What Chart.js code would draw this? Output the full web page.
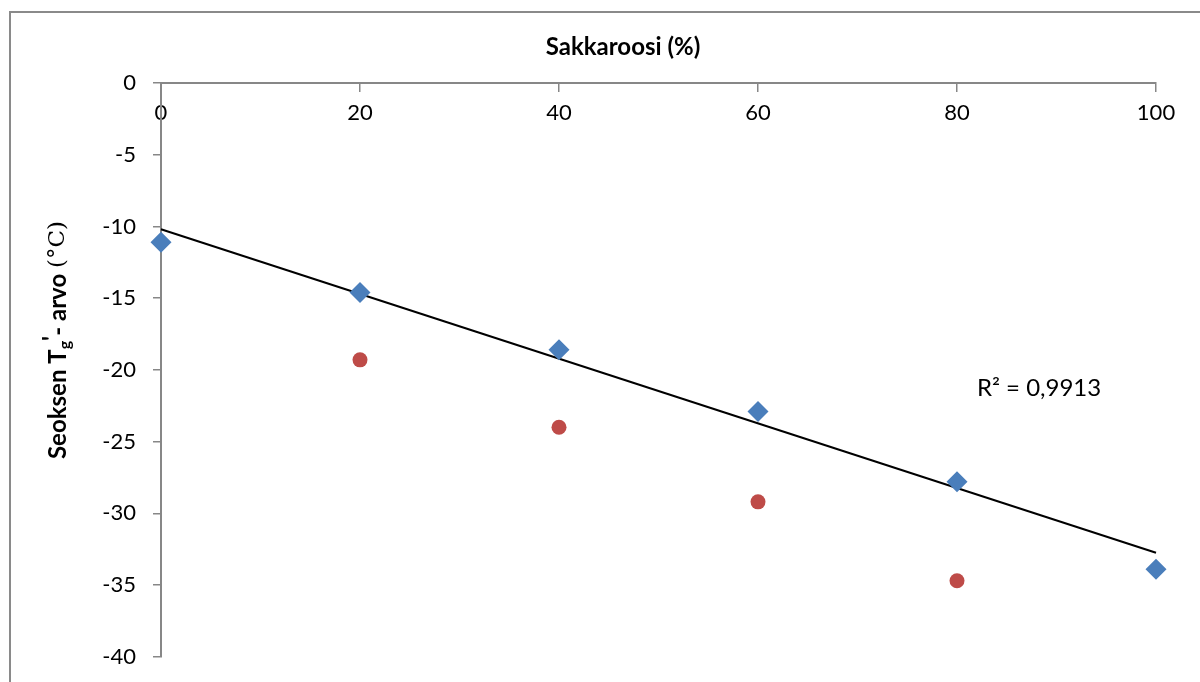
<!DOCTYPE html>
<html>
<head>
<meta charset="utf-8">
<title>Sakkaroosi</title>
<script src="https://cdn.jsdelivr.net/npm/chart.js@4.4.1/dist/chart.umd.min.js"></script>
<style>
    html, body { margin: 0; padding: 0; background: #ffffff; }
    #wrap { position: relative; width: 1200px; height: 682px; overflow: hidden; }
    #frame {
        position: absolute; left: 9px; top: 11px; width: 1400px; height: 900px;
        border-left: 2px solid #8a8a8a; border-top: 2px solid #8a8a8a;
    }
    #chart { position: absolute; left: 0; top: 0; }
</style>
</head>
<body>
<div id="wrap">
    <div id="frame"></div>
    <canvas id="chart" width="1200" height="687"></canvas>
</div>
<script>
(function () {
    "use strict";

    // ---------------------------------------------------------
    // Data
    // ---------------------------------------------------------
    const sucroseLevels = [0, 20, 40, 60, 80, 100];
    const tgBlue = [-11.1, -14.6, -18.6, -22.9, -27.8, -33.9];

    const redLevels = [20, 40, 60, 80];
    const tgRed = [-19.3, -24.0, -29.2, -34.7];

    const trendX = [0, 100];
    const trendY = [-10.2, -32.75];

    const xTicks = [0, 20, 40, 60, 80, 100];
    const yTicks = [0, -5, -10, -15, -20, -25, -30, -35, -40];

    const titleText = "Sakkaroosi (%)";
    const r2Text = "R² = 0,9913";

    const FONT = "Lato, 'Open Sans', sans-serif";
    const SERIF = "'DejaVu Serif', 'Liberation Serif', serif";
    const AXIS_GREY = "#878787";

    function toPoints(xs, ys) {
        return xs.map((x, i) => ({ x: x, y: ys[i] }));
    }


    // ---------------------------------------------------------
    // Text overlay: title, y title with subscript, R² label
    // ---------------------------------------------------------
    const textPlugin = {
        id: "textOverlay",
        afterDraw(chart) {
            const ctx = chart.ctx;
            const xs = chart.scales.x;
            const ys = chart.scales.y;

            ctx.save();
            ctx.fillStyle = "#000";

            // top title
            ctx.font = "bold 24px " + FONT;
            ctx.textAlign = "center";
            ctx.textBaseline = "middle";
            ctx.fillText(titleText, 623, 47);

            // y title, rotated, with T subscript g and prime
            const parts = [
                { t: "Seoksen T", font: "bold 24px " + FONT, dy: 0 },
                { t: "g", font: "bold 16px " + FONT, dy: 7 },
                { t: "'", font: "bold 24px " + FONT, dy: -6 },
                { t: "- arvo ", font: "bold 24px " + FONT, dy: 0 },
                { t: "(°C)", font: "23px " + SERIF, dy: 0 },
            ];
            let total = 0;
            parts.forEach((p) => {
                ctx.font = p.font;
                p.w = ctx.measureText(p.t).width;
                total += p.w;
            });
            ctx.translate(58, 340);
            ctx.rotate(-Math.PI / 2);
            ctx.textAlign = "left";
            let cx = -total / 2;
            parts.forEach((p) => {
                ctx.font = p.font;
                ctx.fillText(p.t, cx, p.dy);
                cx += p.w;
            });
            ctx.setTransform(1, 0, 0, 1, 0, 0);

            // R² label
            ctx.font = "24px " + FONT;
            ctx.textAlign = "left";
            ctx.textBaseline = "middle";
            ctx.fillText(r2Text, xs.getPixelForValue(82), ys.getPixelForValue(-21.3));

            ctx.restore();
        },
    };


    // ---------------------------------------------------------
    // Chart
    // ---------------------------------------------------------
    new Chart(document.getElementById("chart"), {
        type: "scatter",
        data: {
            datasets: [
                {
                    label: "trend",
                    type: "line",
                    data: toPoints(trendX, trendY),
                    borderColor: "#000000",
                    borderWidth: 2,
                    pointRadius: 0,
                    fill: false,
                    clip: false,
                    order: 3,
                },
                {
                    label: "series 1",
                    data: toPoints(sucroseLevels, tgBlue),
                    pointStyle: "rectRot",
                    pointRadius: 10.5,
                    backgroundColor: "#4a7ebb",
                    borderColor: "#4a7ebb",
                    borderWidth: 0,
                    clip: false,
                    order: 1,
                },
                {
                    label: "series 2",
                    data: toPoints(redLevels, tgRed),
                    pointStyle: "circle",
                    pointRadius: 7.5,
                    backgroundColor: "#be4b48",
                    borderColor: "#be4b48",
                    borderWidth: 0,
                    clip: false,
                    order: 2,
                },
            ],
        },
        options: {
            responsive: false,
            animation: false,
            layout: {
                padding: { left: 0, top: 83, right: 44, bottom: 21 },
            },
            plugins: {
                legend: { display: false },
                tooltip: { enabled: false },
                title: { display: false },
            },
            scales: {
                x: {
                    type: "linear",
                    position: { y: 0 },
                    min: 0,
                    max: 100,
                    afterBuildTicks: (scale) => {
                        scale.ticks = xTicks.map((v) => ({ value: v }));
                    },
                    grid: {
                        drawOnChartArea: false,
                        drawTicks: true,
                        tickLength: 8,
                        color: AXIS_GREY,
                        lineWidth: 1.5,
                    },
                    border: { display: true, color: AXIS_GREY, width: 2 },
                    ticks: {
                        padding: 9,
                        color: "#000",
                        font: { family: FONT, size: 22 },
                        maxRotation: 0,
                    },
                },
                y: {
                    type: "linear",
                    position: "left",
                    min: -40,
                    max: 0,
                    afterBuildTicks: (scale) => {
                        scale.ticks = yTicks.map((v) => ({ value: v }));
                    },
                    afterFit: (scale) => {
                        scale.width = 161;
                    },
                    grid: {
                        drawOnChartArea: false,
                        drawTicks: true,
                        tickLength: 8,
                        color: AXIS_GREY,
                        lineWidth: 1.5,
                    },
                    border: { display: true, color: AXIS_GREY, width: 2 },
                    ticks: {
                        padding: 17,
                        color: "#000",
                        font: { family: FONT, size: 22 },
                    },
                },
            },
        },
        plugins: [textPlugin],
    });

})();
</script>
</body>
</html>
